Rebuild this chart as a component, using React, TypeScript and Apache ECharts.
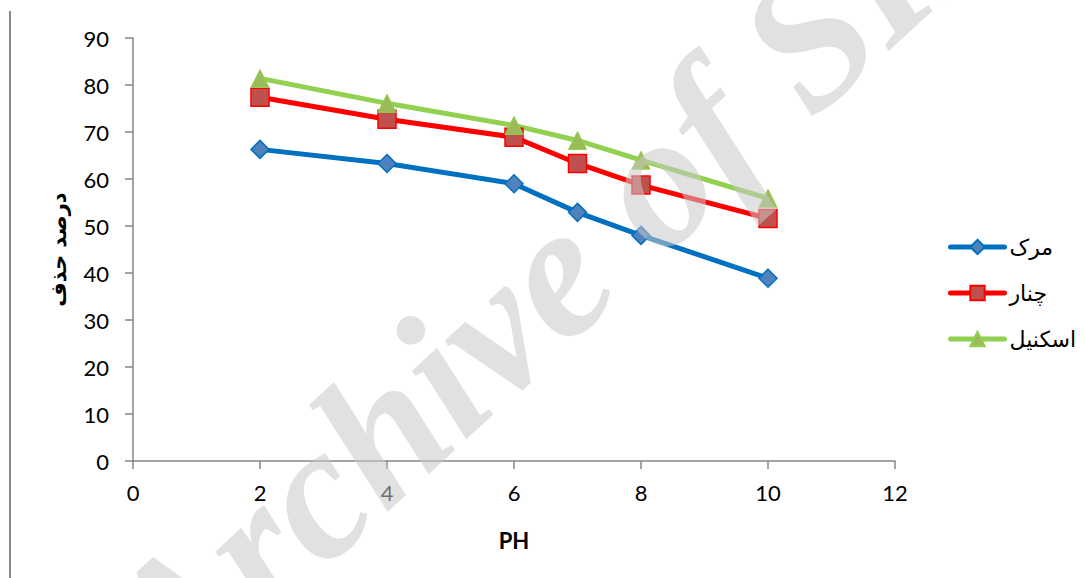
import React, { useEffect, useRef } from "react";
import * as echarts from "echarts";

const phValues = [2, 4, 6, 7, 8, 10];
const seriesNames = ["مرک", "چنار", "اسکنیل"];
const markValues = [66.3, 63.3, 59.0, 52.9, 48.0, 38.9];
const chenarValues = [77.4, 72.7, 68.9, 63.3, 58.7, 51.6];
const eskanilValues = [81.4, 76.1, 71.4, 68.2, 64.0, 55.9];
const xAxisName = "PH";
const yAxisName = "درصد حذف";
const watermark = "Archive of SID";

const FONT = "Lato, 'DejaVu Sans', sans-serif";

export default function App() {
  const ref = useRef<HTMLDivElement>(null);
  useEffect(() => {
    document.body.style.margin = "0";
    const chart = echarts.init(ref.current!, null, { renderer: "svg" });
    const pts = (vals: number[]) => phValues.map((x, i) => [x, vals[i]]);
    const colors = ["#0070C0", "#FF0000", "#92D050"];
    chart.setOption({
      animation: false,
      backgroundColor: "#ffffff",
      textStyle: { fontFamily: FONT },
      grid: { left: 133, top: 38, right: 190, bottom: 117 },
      xAxis: {
        type: "value",
        min: 0,
        max: 12,
        interval: 2,
        name: xAxisName,
        nameLocation: "middle",
        nameGap: 68,
        nameTextStyle: { fontSize: 22, fontWeight: "bold", color: "#000", fontFamily: FONT },
        axisLine: { show: true, lineStyle: { color: "#868686", width: 1.5 } },
        axisTick: { show: true, length: 8, lineStyle: { color: "#868686", width: 1.5 } },
        axisLabel: { fontSize: 22, color: "#000", margin: 20, fontFamily: FONT },
        splitLine: { show: false },
      },
      yAxis: {
        type: "value",
        min: 0,
        max: 90,
        interval: 10,
        name: yAxisName,
        nameLocation: "middle",
        nameRotate: 90,
        nameGap: 64,
        nameTextStyle: { fontSize: 21, fontWeight: "bold", color: "#000", fontFamily: "'DejaVu Sans', sans-serif" },
        axisLine: { show: true, lineStyle: { color: "#868686", width: 1.5 } },
        axisTick: { show: true, length: 8, lineStyle: { color: "#868686", width: 1.5 } },
        axisLabel: { fontSize: 22, color: "#000", margin: 24, fontFamily: FONT },
        splitLine: { show: false },
      },
      legend: {
        orient: "vertical",
        left: 943,
        top: 231,
        itemWidth: 54,
        itemHeight: 18,
        itemGap: 24,
        textStyle: { fontSize: 22, color: "#000", fontFamily: "'DejaVu Sans', sans-serif" },
        data: seriesNames.map((n, i) => ({
          name: n,
          lineStyle: { width: 5, color: colors[i], cap: "round" },
        })),
      },
      series: [
        {
          name: seriesNames[0],
          type: "line",
          data: pts(markValues),
          symbol: "diamond",
          symbolSize: 18,
          lineStyle: { color: colors[0], width: 5 },
          itemStyle: { color: "#4F81BD", borderColor: "#0070C0", borderWidth: 1.5 },
        },
        {
          name: seriesNames[1],
          type: "line",
          data: pts(chenarValues),
          symbol: "rect",
          symbolSize: 18,
          lineStyle: { color: colors[1], width: 5 },
          itemStyle: { color: "#C0504D", borderColor: "#FF0000", borderWidth: 1.5 },
        },
        {
          name: seriesNames[2],
          type: "line",
          data: pts(eskanilValues),
          symbol: "triangle",
          symbolSize: 18,
          lineStyle: { color: colors[2], width: 5 },
          itemStyle: { color: "#9BBB59", borderColor: "#92D050", borderWidth: 1 },
        },
      ],
      graphic: [
        {
          type: "line",
          shape: { x1: 10, y1: 11, x2: 10, y2: 578 },
          style: { stroke: "#8a8a8a", lineWidth: 2 },
          z: 10,
        },
        {
          type: "text",
          x: 132,
          y: 660,
          rotation: 0.743,
          z: 100,
          style: {
            text: watermark,
            fontSize: 190,
            fontStyle: "italic",
            fontWeight: "bold",
            fontFamily: "'Liberation Serif', serif",
            fill: "rgba(200,200,200,0.55)",
            textAlign: "left",
            textVerticalAlign: "middle",
          },
        },
      ],
    });
    return () => chart.dispose();
  }, []);
  return <div ref={ref} style={{ width: 1085, height: 578 }} />;
}
